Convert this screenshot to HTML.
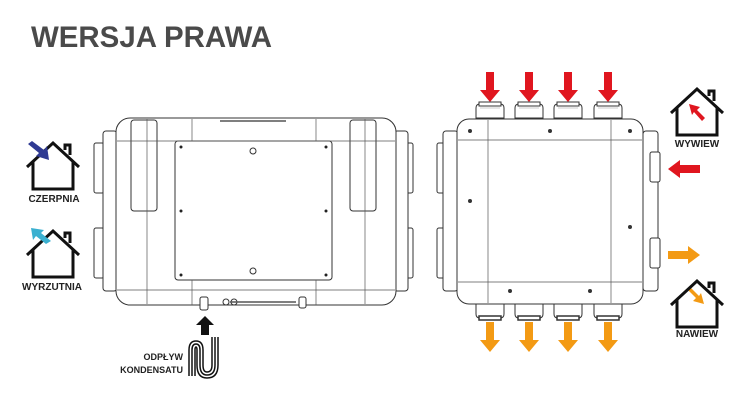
<!DOCTYPE html>
<html><head><meta charset="utf-8"><style>html,body{margin:0;padding:0;background:#fff}svg{display:block}</style></head>
<body>
<svg width="751" height="406" viewBox="0 0 751 406" xmlns="http://www.w3.org/2000/svg" font-family="Liberation Sans, sans-serif">
<defs>
<g id="house"><path d="M0 20 L26 -4 L52 20 M6 15 V42 H46 V15 M38 3 V-2 H43 V8" fill="none" stroke="#111" stroke-width="3"/></g>
<g id="ptop"><path d="M-14 16 V6 Q-14 2 -10 2 H10 Q14 2 14 6 V16 Z" fill="#fff" stroke="#333" stroke-width="1"/><rect x="-11" y="0" width="22" height="4" fill="#fff" stroke="#333" stroke-width="1"/><line x1="-10" y1="6" x2="10" y2="6" stroke="#999" stroke-width="0.6"/></g>
<g id="pbot"><path d="M-14 0 V10 Q-14 14 -10 14 H10 Q14 14 14 10 V0 Z" fill="#fff" stroke="#333" stroke-width="1"/><rect x="-11" y="12" width="22" height="4" fill="#fff" stroke="#333" stroke-width="1.5"/></g>
<path id="adown" d="M-4 0 H4 V18 H10 L0 30 L-10 18 H-4 Z"/>
</defs>
<text x="31" y="47" font-size="30" font-weight="bold" fill="#4a4a4a" textLength="241" lengthAdjust="spacingAndGlyphs">WERSJA PRAWA</text>

<!-- left houses -->
<use href="#house" x="27" y="147"/>
<path d="M32 141 L44 150 L47 146 L49 160 L36 156 L39 153 L28 144 Z" fill="#2f3a93"/>
<text x="54" y="202" font-size="10" font-weight="bold" text-anchor="middle" fill="#222">CZERPNIA</text>
<use href="#house" x="27" y="235"/>
<path d="M46 244 L36 236 L33 240 L31 228 L44 230 L41 233 L51 241 Z" fill="#3ab0d0"/>
<text x="52" y="290" font-size="10" font-weight="bold" text-anchor="middle" fill="#222">WYRZUTNIA</text>

<!-- left unit -->
<g fill="#fff" stroke="#333" stroke-width="1">
<rect x="94" y="143" width="10" height="50" rx="2"/><rect x="94" y="228" width="10" height="50" rx="2"/>
<rect x="103" y="131" width="14" height="160" rx="3"/>
<rect x="403" y="143" width="10" height="50" rx="2"/><rect x="403" y="228" width="10" height="50" rx="2"/>
<rect x="394" y="131" width="14" height="160" rx="3"/>
<rect x="116" y="118" width="280" height="187" rx="14"/>
<rect x="131" y="120" width="26" height="91" rx="3"/><rect x="350" y="120" width="26" height="91" rx="3"/>
<rect x="175" y="141" width="157" height="139" rx="3"/>
<rect x="200" y="297" width="8" height="13" rx="2"/><rect x="299" y="297" width="7" height="11" rx="2"/>
<circle cx="226" cy="302" r="3"/><circle cx="234" cy="302" r="3"/>
</g>
<g stroke="#555" stroke-width="0.7" fill="none">
<line x1="117" y1="141" x2="395" y2="141"/><line x1="117" y1="290" x2="395" y2="290"/>
<line x1="147" y1="119" x2="147" y2="304"/><line x1="365" y1="119" x2="365" y2="304"/>
<line x1="192" y1="119" x2="192" y2="141"/><line x1="316" y1="119" x2="316" y2="141"/>
<line x1="192" y1="280" x2="192" y2="305"/><line x1="316" y1="280" x2="316" y2="305"/>
<line x1="220" y1="121" x2="286" y2="121" stroke-width="1.5"/>
<line x1="230" y1="302" x2="296" y2="302" stroke-width="1.5"/>
</g>
<g fill="#222"><circle cx="181" cy="147" r="1.5"/><circle cx="326" cy="147" r="1.5"/><circle cx="181" cy="211" r="1.5"/><circle cx="326" cy="211" r="1.5"/><circle cx="181" cy="275" r="1.5"/><circle cx="326" cy="275" r="1.5"/></g>
<g fill="none" stroke="#333"><circle cx="253" cy="151" r="3"/><circle cx="253" cy="271" r="3"/></g>
<path d="M201 335 H209 V325 H214 L205 316 L196 325 H201 Z" fill="#111"/>
<path d="M215 337 V365 Q215 375 207 375 Q200 375 200 365 V350 Q200 344 196 344 Q192 344 192 350 V376 M218 337 V365 Q218 378 207 378 Q197 378 197 365 V350 Q197 347 196 347 Q195 347 195 350 V376 M212 337 V365 Q212 372 207 372 Q203 372 203 365 V350 Q203 341 196 341 Q189 341 189 350 V376" fill="none" stroke="#111" stroke-width="1.5"/>
<text x="183" y="360" font-size="9" font-weight="bold" text-anchor="end" fill="#222">ODPŁYW</text>
<text x="183" y="373" font-size="9" font-weight="bold" text-anchor="end" fill="#222">KONDENSATU</text>

<!-- right unit -->
<g fill="#fff" stroke="#333" stroke-width="1">
<rect x="437" y="143" width="9" height="50" rx="2"/><rect x="437" y="228" width="9" height="50" rx="2"/>
<rect x="443" y="131" width="15" height="160" rx="3"/>
<rect x="643" y="131" width="15" height="160" rx="3"/>
<rect x="650" y="152" width="10" height="30" rx="2"/><rect x="650" y="238" width="10" height="30" rx="2"/>
</g>
<use href="#ptop" x="490" y="102"/><use href="#ptop" x="529" y="102"/><use href="#ptop" x="568" y="102"/><use href="#ptop" x="608" y="102"/>
<use href="#pbot" x="490" y="304"/><use href="#pbot" x="529" y="304"/><use href="#pbot" x="568" y="304"/><use href="#pbot" x="608" y="304"/>
<rect x="457" y="119" width="186" height="185" rx="12" fill="#fff" stroke="#333"/>
<g stroke="#555" stroke-width="0.7"><line x1="458" y1="140" x2="642" y2="140"/><line x1="458" y1="282" x2="642" y2="282"/><line x1="488" y1="120" x2="488" y2="303"/><line x1="611" y1="120" x2="611" y2="303"/></g>
<g fill="#333"><circle cx="470" cy="131" r="2"/><circle cx="550" cy="131" r="2"/><circle cx="630" cy="131" r="2"/><circle cx="470" cy="201" r="2"/><circle cx="630" cy="227" r="2"/><circle cx="510" cy="291" r="2"/><circle cx="590" cy="291" r="2"/></g>
<g fill="#e0161f"><use href="#adown" x="490" y="72"/><use href="#adown" x="529" y="72"/><use href="#adown" x="568" y="72"/><use href="#adown" x="608" y="72"/>
<path d="M700 165 H680 V160 L668 169 L680 178 V173 H700 Z"/>
<path d="M705 118 L697 110 L700 107 L689 104 L692 115 L694 112 L702 121 Z"/></g>
<g fill="#f39a14"><use href="#adown" x="490" y="322"/><use href="#adown" x="529" y="322"/><use href="#adown" x="568" y="322"/><use href="#adown" x="608" y="322"/>
<path d="M668 251 H688 V246 L700 255 L688 264 V259 H668 Z"/>
<path d="M688 290 L696 298 L693 301 L704 304 L701 293 L699 296 L691 288 Z"/></g>
<use href="#house" x="671" y="93"/>
<text x="697" y="147" font-size="10" font-weight="bold" text-anchor="middle" fill="#222">WYWIEW</text>
<use href="#house" x="671" y="285"/>
<text x="697" y="337" font-size="10" font-weight="bold" text-anchor="middle" fill="#222">NAWIEW</text>
</svg>
</body></html>
